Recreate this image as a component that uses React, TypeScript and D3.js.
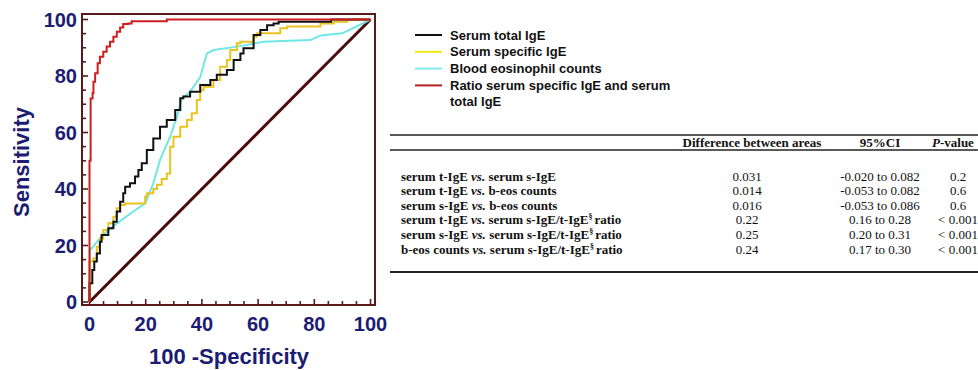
import React from "react";
import * as d3 from "d3";

// ---- data ----
const xTicks = [0, 20, 40, 60, 80, 100];
const yTicks = [0, 20, 40, 60, 80, 100];
const minorTicks = d3.range(0, 101, 5);

const seriesNames = [
  "Serum total IgE",
  "Serum specific IgE",
  "Blood eosinophil counts",
  "Ratio serum specific IgE and serum|total IgE",
];
const seriesColors = ["#111111", "#e8c41e", "#72e6e6", "#cc1f1f"];
const legendColors = ["#111111", "#f0e812", "#7eeaea", "#b82222"];

const totalX = [0, 1.0, 1.7, 2.6, 3.7, 4.3, 6.7, 8.5, 9.7, 10.9, 12, 12.7, 14.4, 16.2, 17.4, 18.6, 20.4, 22.7, 25.1, 27.5, 30.5, 32.3, 33.4, 35.8, 39.4, 43, 45.3, 48.9, 51.3, 53.7, 54.8, 58.4, 58.4, 60.8, 63.2, 65.5, 67.3, 86, 100];
const totalY = [0, 6.6, 11.3, 14.3, 17.2, 21.3, 23.7, 26.1, 28.4, 32, 35.5, 38.5, 40.8, 42, 44.4, 46.7, 49.1, 53.8, 57.9, 62, 64.4, 68, 72.1, 72.7, 74.4, 76.8, 78.6, 80.4, 82.1, 85.7, 88, 89.8, 92.7, 94.5, 96.3, 98, 98.6, 99.2, 100];

const specificX = [0, 1.4, 2.6, 3.7, 4.9, 6.7, 8.5, 9.7, 10.9, 12.7, 19.8, 20.4, 22.7, 24, 25.7, 27.5, 28.7, 29.9, 32.3, 34.7, 36.4, 38.2, 39.4, 40.6, 44.1, 46.5, 48.9, 50.1, 52.5, 53.7, 58.4, 59.6, 67.9, 70.3, 82.2, 86.9, 91.7, 94, 100];
const specificY = [0, 14.3, 15.5, 19.6, 22.5, 25.5, 27.9, 30.2, 33.2, 34.3, 34.9, 37.3, 38.5, 40, 41.5, 43.5, 45.5, 55, 58.5, 62, 64.4, 66.8, 71.5, 75, 76.2, 78.6, 83.3, 85.7, 89.2, 91.6, 92.1, 93.9, 95.1, 96.9, 97.5, 98.6, 99.2, 99.8, 100];

const eosX = [0, 0.2, 0.8, 3.1, 5.5, 9.1, 13.8, 19.8, 22.7, 25.1, 28.7, 31.1, 32.9, 35.8, 39.4, 41.8, 44.1, 52.5, 62, 69, 78.6, 82.2, 90, 100];
const eosY = [0, 18.4, 19, 21.9, 24.3, 27.3, 30.8, 34.9, 42, 50.3, 58.5, 65.6, 72.1, 74.4, 79.6, 88, 89.2, 90.4, 92.1, 92.4, 92.7, 94.3, 95.1, 100];

const ratioX = [0, 0, 0.4, 0.4, 1.1, 1.4, 2, 2.9, 3.7, 4.9, 6.1, 7.3, 8.5, 9.7, 10.9, 12, 13.8, 15, 27.5, 85.8, 100];
const ratioY = [0, 37, 50, 60, 72, 74, 78, 81, 84.5, 86.8, 88.6, 90.4, 92.1, 93.9, 95.7, 97.2, 98.4, 98.6, 99.4, 100, 100];

const tableHeaders = ["Difference between areas", "95%CI", "P-value"];
const rowA = ["serum t-IgE", "serum t-IgE", "serum s-IgE", "serum t-IgE", "serum s-IgE", "b-eos counts"];
const rowB = ["serum s-IgE", "b-eos counts", "b-eos counts", "serum s-IgE/t-IgE", "serum s-IgE/t-IgE", "serum s-IgE/t-IgE"];
const rowRatio = [false, false, false, true, true, true];
const diffValues = ["0.031", "0.014", "0.016", "0.22", "0.25", "0.24"];
const ciValues = ["-0.020 to 0.082", "-0.053 to 0.082", "-0.053 to 0.086", "0.16 to 0.28", "0.20 to 0.31", "0.17 to 0.30"];
const pValues = ["0.2", "0.6", "0.6", "< 0.001", "< 0.001", "< 0.001"];

// ---- layout ----
const W = 978;
const H = 370;
const frame = { l: 82, t: 14, r: 375, b: 305 };
const navy = "#1c1c72";
const frameColor = "#5a1a1a";

export default function App() {
  const x = d3.scaleLinear().domain([0, 100]).range([89.5, 370.5]);
  const y = d3.scaleLinear().domain([0, 100]).range([302, 19.5]);

  const mk = (xs: number[], ys: number[], curve: d3.CurveFactory) =>
    d3
      .line<number>()
      .x((_, i) => x(xs[i]))
      .y((_, i) => y(ys[i]))
      .curve(curve)(xs.map((_, i) => i)) || "";

  const paths = [
    mk(totalX, totalY, d3.curveStepBefore),
    mk(specificX, specificY, d3.curveStepBefore),
    mk(eosX, eosY, d3.curveLinear),
    mk(ratioX, ratioY, d3.curveStepBefore),
  ];
  const order = [2, 1, 0, 3];

  const sans = "'Liberation Sans', Arial, sans-serif";
  const serif = "'Liberation Serif', 'Times New Roman', serif";

  const rowY = (i: number) => 180.5 + i * 14.6;
  const tf = 13;

  return (
    <svg
      width={W}
      height={H}
      style={{ position: "absolute", left: 0, top: 0, background: "#fff" }}
    >
      {/* frame */}
      <rect
        x={frame.l}
        y={frame.t}
        width={frame.r - frame.l}
        height={frame.b - frame.t}
        fill="none"
        stroke={frameColor}
        strokeWidth={2}
      />
      {/* ticks */}
      {minorTicks.map((t) => (
        <g key={"t" + t}>
          <line
            x1={frame.l}
            x2={frame.l + (t % 20 === 0 ? 6 : 4)}
            y1={y(t)}
            y2={y(t)}
            stroke={frameColor}
            strokeWidth={1.6}
          />
          <line
            x1={x(t)}
            x2={x(t)}
            y1={frame.b}
            y2={frame.b - (t % 20 === 0 ? 6 : 4)}
            stroke={frameColor}
            strokeWidth={1.6}
          />
        </g>
      ))}
      {/* tick labels */}
      {yTicks.map((t) => (
        <text
          key={"yl" + t}
          x={77}
          y={y(t)}
          dy="0.36em"
          textAnchor="end"
          fontFamily={sans}
          fontWeight="bold"
          fontSize={20}
          fill={navy}
        >
          {t}
        </text>
      ))}
      {xTicks.map((t) => (
        <text
          key={"xl" + t}
          x={x(t)}
          y={331}
          textAnchor="middle"
          fontFamily={sans}
          fontWeight="bold"
          fontSize={20}
          fill={navy}
        >
          {t}
        </text>
      ))}
      <text
        transform="translate(29,162) rotate(-90)"
        textAnchor="middle"
        fontFamily={sans}
        fontWeight="bold"
        fontSize={22}
        fill={navy}
      >
        Sensitivity
      </text>
      <text
        x={229}
        y={364}
        textAnchor="middle"
        fontFamily={sans}
        fontWeight="bold"
        fontSize={22}
        fill={navy}
      >
        100 -Specificity
      </text>

      {/* diagonal */}
      <line
        x1={x(0)}
        y1={y(0)}
        x2={x(100)}
        y2={y(100)}
        stroke="#4a0a0a"
        strokeWidth={3}
      />
      {/* curves */}
      {order.map((i) => (
        <path
          key={"p" + i}
          d={paths[i]}
          fill="none"
          stroke={seriesColors[i]}
          strokeWidth={2}
          strokeLinejoin="miter"
        />
      ))}

      {/* legend */}
      {seriesNames.map((n, i) => {
        const ly = 35 + i * 16.8;
        const lines = n.split("|");
        return (
          <g key={"lg" + i}>
            <line
              x1={415}
              x2={442}
              y1={ly}
              y2={ly}
              stroke={legendColors[i]}
              strokeWidth={2}
            />
            {lines.map((s, j) => (
              <text
                key={j}
                x={450}
                y={ly + j * 16}
                dy="0.36em"
                fontFamily={sans}
                fontWeight="bold"
                fontSize={13}
                fill="#111"
              >
                {s}
              </text>
            ))}
          </g>
        );
      })}

      {/* table */}
      <line x1={390} x2={W} y1={135} y2={135} stroke="#222" strokeWidth={1.6} />
      <line x1={390} x2={W} y1={150} y2={150} stroke="#222" strokeWidth={1.6} />
      <line x1={390} x2={W} y1={272} y2={272} stroke="#222" strokeWidth={1.8} />
      <text x={752} y={147} textAnchor="middle" fontFamily={serif} fontWeight="bold" fontSize={tf} fill="#111">
        {tableHeaders[0]}
      </text>
      <text x={880} y={147} textAnchor="middle" fontFamily={serif} fontWeight="bold" fontSize={tf} fill="#111">
        {tableHeaders[1]}
      </text>
      <text x={932} y={147} fontFamily={serif} fontWeight="bold" fontSize={tf} fill="#111">
        <tspan fontStyle="italic">{tableHeaders[2].slice(0, 1)}</tspan>
        {tableHeaders[2].slice(1)}
      </text>
      {rowA.map((a, i) => (
        <g key={"r" + i}>
          <text x={401} y={rowY(i)} fontFamily={serif} fontWeight="bold" fontSize={tf} fill="#111">
            {a} <tspan fontStyle="italic">vs.</tspan> {rowB[i]}
            {rowRatio[i] ? (
              <>
                <tspan fontSize={8} dy={-5}>§</tspan>
                <tspan dy={5} dx={2}>ratio</tspan>
              </>
            ) : null}
          </text>
          <text x={747} y={rowY(i)} textAnchor="middle" fontFamily={serif} fontSize={tf} fill="#111">
            {diffValues[i]}
          </text>
          <text x={880} y={rowY(i)} textAnchor="middle" fontFamily={serif} fontSize={tf} fill="#111">
            {ciValues[i]}
          </text>
          <text x={958} y={rowY(i)} textAnchor="middle" fontFamily={serif} fontSize={tf} fill="#111">
            {pValues[i]}
          </text>
        </g>
      ))}
    </svg>
  );
}
